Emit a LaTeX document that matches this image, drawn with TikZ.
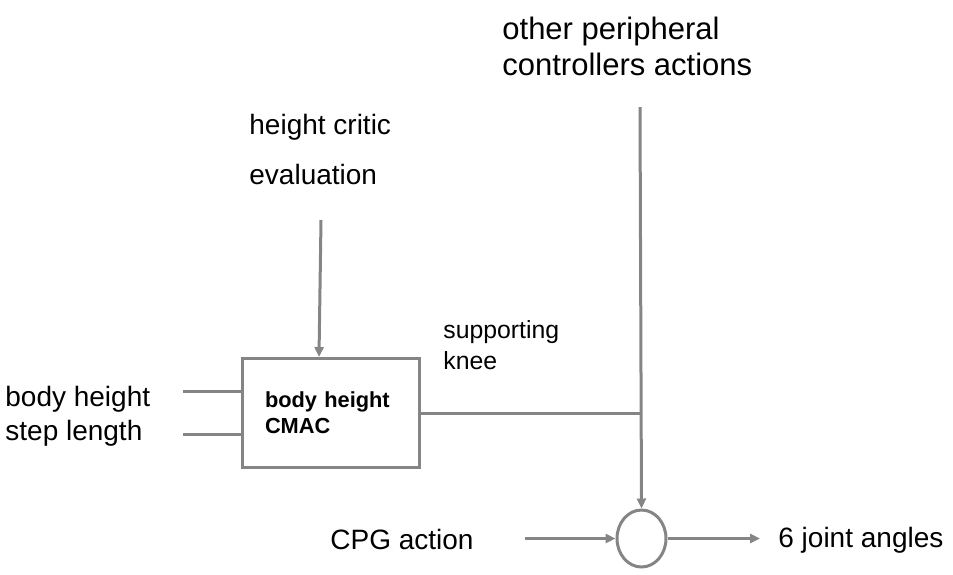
\documentclass[tikz,border=0pt]{standalone}
\usepackage{fontspec}
\setmainfont{Liberation Sans}
\usetikzlibrary{arrows.meta,positioning,shapes.geometric}
\definecolor{linegray}{HTML}{858585}
\tikzset{wire/.style={draw=linegray,line width=1.5pt},
flow/.style={wire,-{Triangle[length=5pt,width=4.5pt]}},
lbl/.style={inner sep=0pt,anchor=base west,align=left}}

\begin{document}
\begin{tikzpicture}[x=0.5pt,y=-0.5pt]
		\useasboundingbox (0,0) rectangle (953,574);
		% blocks
		\node[wire,anchor=north west,minimum width=88.5pt,minimum height=54.5pt,
			text width=66pt,inner xsep=11pt,inner ysep=0pt,align=left,
			font=\bfseries\fontsize{10.9}{13}\selectfont] (cmac) at (241,357) {body height\\CMAC};
		\node[wire,ellipse,minimum width=24.5pt,minimum height=28.5pt,inner sep=0pt] (sum) at (641.5,538.5) {};
		% labels (base = last line)
		\node[lbl,font=\fontsize{15.5}{18}\selectfont] (peritxt) at (502,75) {other peripheral\\controllers actions};
		\node[lbl,font=\fontsize{14}{25}\selectfont] (critictxt) at (249,184) {height critic\\evaluation};
		\node[lbl,font=\fontsize{14}{17}\selectfont] (intxt) at (5,440) {body height\\step length};
		\node[lbl,font=\fontsize{12.4}{15.5}\selectfont] (kneetxt) at (443,369) {supporting\\knee};
		\node[lbl,font=\fontsize{14}{17}\selectfont] (cpgtxt) at (330,549) {CPG action};
		\node[lbl,font=\fontsize{14}{17}\selectfont] (outtxt) at (778,547) {6 joint angles};
		% connectors
		\coordinate (critic) at (321,220);
		\coordinate (criticin) at (319,357);
		\coordinate (peri) at (640,107);
		\coordinate (inA) at (183,391);
		\coordinate (inB) at (183,434);
		\coordinate (cpg) at (525,538.5);
		\coordinate (out) at (760,538.5);
		\draw[flow] (critic) -- (criticin);
		\draw[wire] (inA) -- (inA -| cmac.west);
		\draw[wire] (inB) -- (inB -| cmac.west);
		\draw[wire] (cmac.east) -- (cmac.east -| peri);
		\draw[flow] (peri) -- (sum.north);
		\draw[flow] (cpg) -- (sum.west);
		\draw[flow] (sum.east) -- (out);
	\end{tikzpicture}
\end{document}
